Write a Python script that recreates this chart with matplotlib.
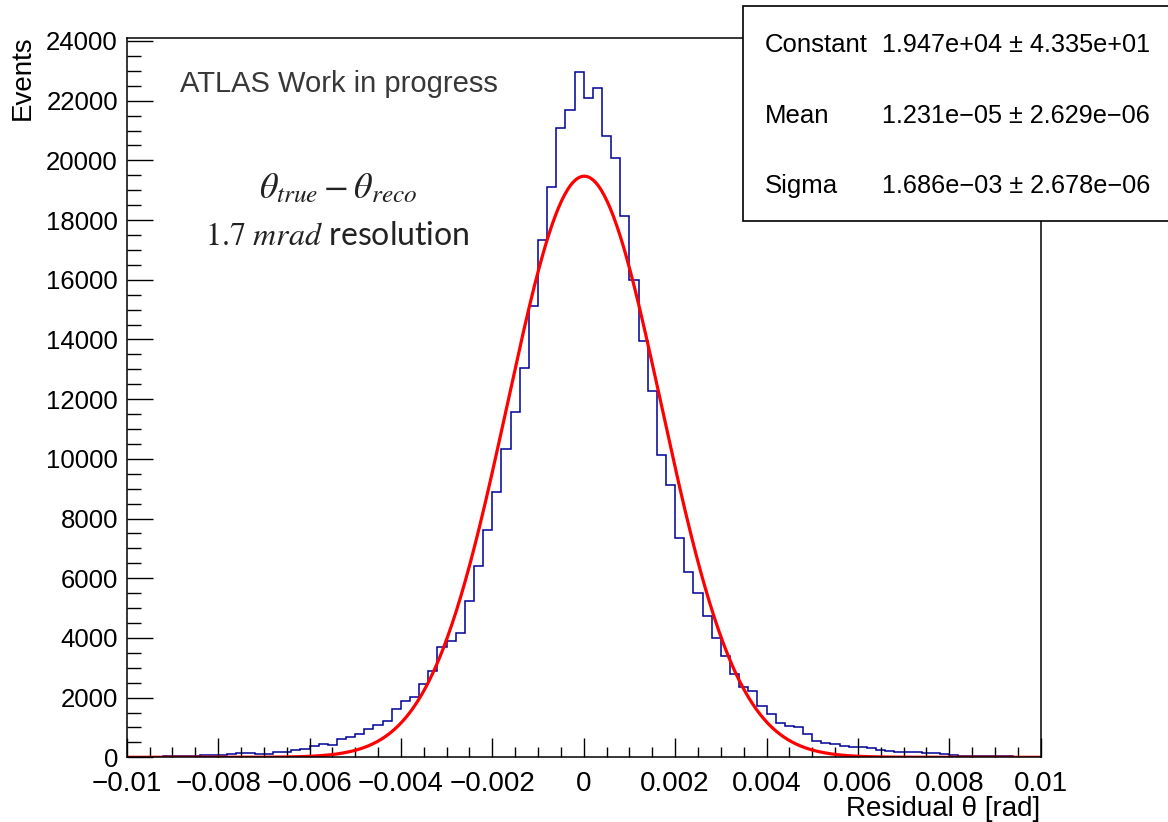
import numpy as np
import matplotlib
matplotlib.use("Agg")
import matplotlib.pyplot as plt
from matplotlib.patches import Rectangle
from matplotlib.ticker import MultipleLocator

plt.rcParams['font.family'] = ['Liberation Sans', 'DejaVu Sans']
plt.rcParams['mathtext.fontset'] = 'stix'

# histogram: 100 bins from -0.01 to 0.01 rad
x_min, x_max, n_bins = -0.01, 0.01, 100
counts = [
    5, 10, 15, 25, 40, 45, 50, 55, 65, 80,
    85, 95, 155, 134, 110, 110, 178, 170, 245, 290,
    378, 446, 423, 602, 691, 770, 959, 1082, 1206, 1608,
    1886, 2020, 2445, 2891, 3706, 3906, 4174, 5236, 6419, 7604,
    8888, 10338, 11578, 13052, 15120, 17320, 19105, 21082, 21685, 22968,
    22077, 22432, 20814, 20077, 18124, 16000, 13957, 12281, 10117, 9132,
    7347, 6218, 5494, 4734, 4007, 3394, 2781, 2366, 2221, 1729,
    1451, 1165, 1060, 1015, 770, 546, 469, 436, 389, 355,
    345, 301, 245, 211, 168, 168, 188, 144, 134, 100,
    77, 60, 55, 45, 40, 35, 30, 25, 20, 15,
]

# gaussian fit result
fit_constant = 1.947e4
fit_mean = 1.231e-5
fit_sigma = 1.686e-3
stat_names = ["Constant", "Mean", "Sigma"]
stat_values = ["1.947e+04 \u00b1 4.335e+01",
               "1.231e\u221205 \u00b1 2.629e\u221206",
               "1.686e\u221203 \u00b1 2.678e\u221206"]

xtick_pos = [-0.01, -0.008, -0.006, -0.004, -0.002, 0, 0.002, 0.004, 0.006, 0.008, 0.01]
xtick_labels = ["\u22120.01", "\u22120.008", "\u22120.006", "\u22120.004", "\u22120.002", "0",
                "0.002", "0.004", "0.006", "0.008", "0.01"]

W, H = 1168, 822
fig = plt.figure(figsize=(W / 100, H / 100), dpi=100)
ax = fig.add_axes([126.7 / W, 1 - 757.3 / H, 914 / W, (757.3 - 37.7) / H])

edges = np.linspace(x_min, x_max, n_bins + 1)
ax.stairs(counts, edges, color='#000099', lw=1.1)

xf = np.linspace(x_min, x_max, 600)
yf = fit_constant * np.exp(-0.5 * ((xf - fit_mean) / fit_sigma) ** 2)
ax.plot(xf, yf, color='#ff0000', lw=2.3)

ax.set_xlim(x_min, x_max)
ax.set_ylim(0, 24110)

ax.set_xticks(xtick_pos)
ax.set_xticklabels(xtick_labels)
ax.xaxis.set_minor_locator(MultipleLocator(0.0005))
ax.yaxis.set_major_locator(MultipleLocator(2000))
ax.yaxis.set_minor_locator(MultipleLocator(500))

ax.tick_params(which='both', direction='in', top=False, right=False, width=1.0)
ax.tick_params(axis='x', which='major', length=14, pad=10, labelsize=20)
ax.tick_params(axis='x', which='minor', length=7)
ax.tick_params(axis='y', which='major', length=19, pad=6.3, labelsize=18.5)
ax.tick_params(axis='y', which='minor', length=10)
for s in ax.spines.values():
    s.set_linewidth(1.1)

fig.text(22.5 / W, 1 - 35 / H, "Events", rotation=90, ha='center', va='top', fontsize=20)
fig.text(1040 / W, 1 - 816 / H, "Residual \u03b8 [rad]", ha='right', va='baseline', fontsize=20)

fig.text(180 / W, 1 - 92 / H, "ATLAS Work in progress", ha='left', va='baseline',
         fontsize=21, color='#383838')
fig.text(338 / W, 1 - 198 / H, r"$\theta_{true} - \theta_{reco}$", ha='center', va='baseline',
         fontsize=26, color='#222222')
fig.text(337 / W, 1 - 245 / H, r"$1.7\ mrad$ resolution", ha='center', va='baseline',
         fontsize=23, color='#222222', family=['Lato', 'DejaVu Sans'])

# stats box
box = Rectangle((743 / W, 1 - 221 / H), (W - 743 + 10) / W, (221 - 6) / H,
                transform=fig.transFigure, facecolor='white', edgecolor='black',
                lw=1.2, zorder=5, clip_on=False)
fig.patches.append(box)
for name, val, yb in zip(stat_names, stat_values, [52, 123, 193]):
    fig.text(765 / W, 1 - yb / H, name, ha='left', va='baseline', fontsize=18.5, zorder=6)
    fig.text(882 / W, 1 - yb / H, val, ha='left', va='baseline', fontsize=18.2, zorder=6)

fig.savefig("out.png", dpi=100)
